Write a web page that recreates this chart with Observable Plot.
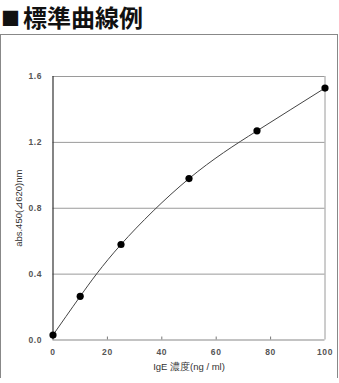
<!DOCTYPE html>
<html><head><meta charset="utf-8">
<script src="https://cdn.jsdelivr.net/npm/d3@7"></script>
<script src="https://cdn.jsdelivr.net/npm/@observablehq/plot@0.6"></script>
<style>
html,body{margin:0;padding:0;background:#fff;}
#title{position:absolute;left:1px;top:2px;font:bold 24px "Noto Sans CJK JP",sans-serif;color:#111;line-height:30px;white-space:nowrap;}
#title .sq{font-size:19px;margin-right:3px;vertical-align:1px;}
#box{position:absolute;left:0;top:34px;width:336px;height:342px;border:1.5px solid #888;}
#box svg{display:block;}
</style></head><body>
<div id="title"><span class="sq">■</span>標準曲線例</div>
<div id="box"></div>
<script>
const conc = [0, 10, 25, 50, 75, 100];
const absorb = [0.03, 0.265, 0.58, 0.98, 1.27, 1.53];
const xTicks = [0, 20, 40, 60, 80, 100];
const yTicks = [0.0, 0.4, 0.8, 1.2, 1.6];
const xLabel = "IgE 濃度(ng / ml)";
const yLabel = "abs.450(⊿620)nm";

const data = conc.map((c, i) => ({c, a: absorb[i]}));

const chart = Plot.plot({
  width: 336, height: 343,
  marginLeft: 51.5, marginRight: 12.5, marginTop: 41, marginBottom: 38.5,
  style: {fontFamily: "Liberation Sans, Arial, sans-serif", fontSize: "9.5px", color: "#333", background: "#fff"},
  x: {domain: [0, 100], ticks: xTicks, tickSize: 0, tickPadding: 9, tickFormat: d => String(d), label: xLabel, labelAnchor: "center", labelOffset: 30, labelArrow: "none"},
  y: {domain: [0, 1.6], ticks: yTicks, tickSize: 0, tickPadding: 11, tickFormat: d => d.toFixed(1), label: yLabel, labelAnchor: "center", labelOffset: 38, labelArrow: "none"},
  marks: [
    Plot.ruleY(yTicks.slice(1), {stroke: "#9a9a9a", strokeWidth: 1}),
    Plot.ruleX([100], {stroke: "#9a9a9a", strokeWidth: 1}),
    Plot.ruleX(xTicks.slice(1, -1), {y1: 0, y2: 0.018, stroke: "#777"}),
    Plot.ruleY([0], {stroke: "#888", strokeWidth: 1.2}),
    Plot.ruleX([0], {stroke: "#333", strokeWidth: 1.2}),
    Plot.line(data, {x: "c", y: "a", curve: "natural", stroke: "#444", strokeWidth: 1}),
    Plot.dot(data, {x: "c", y: "a", r: 3.6, fill: "#000", stroke: "none"})
  ]
});
chart.querySelectorAll("text").forEach(t => {
  if (t.textContent.includes("→") || t.textContent.includes("↑")) {
    t.textContent = t.textContent.replace(/\s*[→↑]\s*/g, "");
  }
});
chart.querySelectorAll("[aria-label$='tick label'] text").forEach(t => {
  t.setAttribute("font-weight", "bold"); t.setAttribute("fill", "#555");
  t.setAttribute("font-size", "8.5px"); t.setAttribute("letter-spacing", "0.6px");
});
document.getElementById("box").appendChild(chart);
</script>
</body></html>
